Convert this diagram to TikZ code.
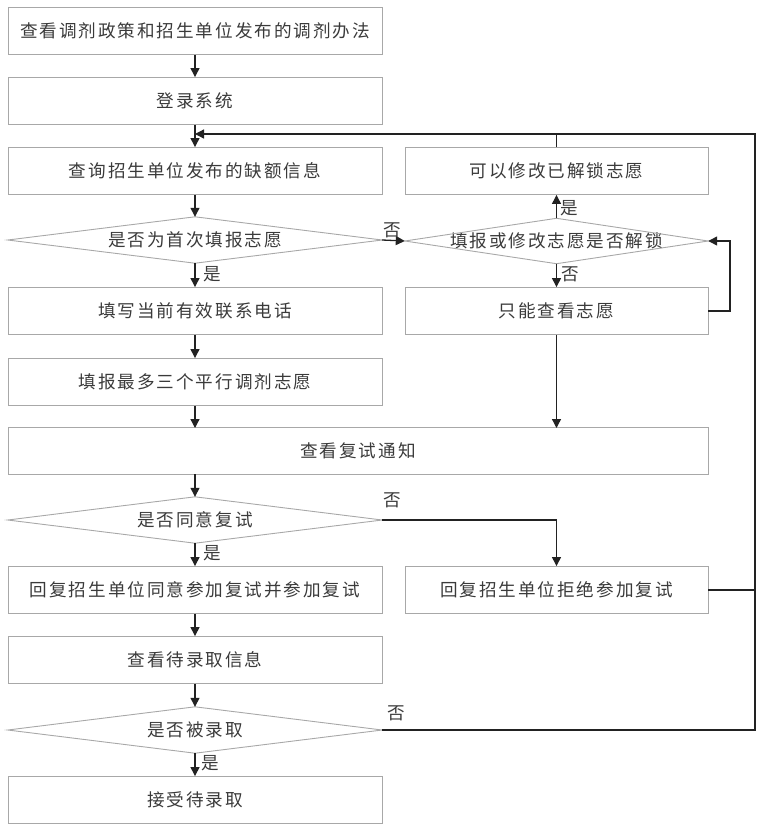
\documentclass[tikz,border=0pt]{standalone}
\usepackage{fontspec}
\setmainfont{Noto Sans CJK SC}
\newfontfamily\cjk[LetterSpace=11]{Noto Sans CJK SC}
\usetikzlibrary{arrows.meta}
\definecolor{boxgray}{HTML}{A8A8A8}
\definecolor{txtgray}{HTML}{3A3A3A}
\definecolor{linedark}{HTML}{222222}
\tikzset{
  stepbox/.style={draw=boxgray, line width=0.9pt, rectangle, inner sep=0pt,
    font=\cjk\fontsize{17.6}{19}\selectfont, text=txtgray},
  decbox/.style={draw=none, rectangle, inner sep=0pt,
    font=\cjk\fontsize{17.6}{19}\selectfont, text=txtgray},
  decline/.style={draw=boxgray, line width=0.9pt},
  conn/.style={draw=linedark, line width=1.3pt},
  arr/.style={conn, -{Triangle[length=9pt,width=9pt]}},
  lbl/.style={font=\cjk\fontsize{17.6}{19}\selectfont, text=txtgray, inner sep=0pt}
}
\begin{document}
\begin{tikzpicture}[x=1pt,y=-1pt]
\useasboundingbox (0,0) rectangle (764,838);
% left column
\node[stepbox, minimum width=374pt, minimum height=47pt] (b1) at (195,31) {查看调剂政策和招生单位发布的调剂办法};
\node[stepbox, minimum width=374pt, minimum height=47pt] (b2) at (195,101) {登录系统};
\node[stepbox, minimum width=374pt, minimum height=47pt] (b3) at (195,171) {查询招生单位发布的缺额信息};
\node[decbox, minimum width=374pt, minimum height=46pt] (d1) at (195,240) {是否为首次填报志愿};
\draw[decline] (d1.north) -- (d1.east) -- (d1.south) -- (d1.west) -- cycle;
\node[stepbox, minimum width=374pt, minimum height=47pt] (b4) at (195,311) {填写当前有效联系电话};
\node[stepbox, minimum width=374pt, minimum height=47pt] (b5) at (195,382) {填报最多三个平行调剂志愿};
\node[stepbox, minimum width=700pt, minimum height=47pt] (b6) at (358,451) {查看复试通知};
\node[decbox, minimum width=374pt, minimum height=46pt] (d2) at (195,520) {是否同意复试};
\draw[decline] (d2.north) -- (d2.east) -- (d2.south) -- (d2.west) -- cycle;
\node[stepbox, minimum width=374pt, minimum height=47pt] (b7) at (195,590) {回复招生单位同意参加复试并参加复试};
\node[stepbox, minimum width=374pt, minimum height=47pt] (b9) at (195,660) {查看待录取信息};
\node[decbox, minimum width=374pt, minimum height=46pt] (d3) at (195,730) {是否被录取};
\draw[decline] (d3.north) -- (d3.east) -- (d3.south) -- (d3.west) -- cycle;
\node[stepbox, minimum width=374pt, minimum height=47pt] (b10) at (195,800) {接受待录取};
% right column
\node[stepbox, minimum width=303pt, minimum height=47pt] (r1) at (556.5,171) {可以修改已解锁志愿};
\node[decbox, minimum width=303pt, minimum height=45pt] (dr) at (556.5,241) {填报或修改志愿是否解锁};
\draw[decline] (dr.north) -- (dr.east) -- (dr.south) -- (dr.west) -- cycle;
\node[stepbox, minimum width=303pt, minimum height=47pt] (r2) at (556.5,311) {只能查看志愿};
\node[stepbox, minimum width=303pt, minimum height=47pt] (r8) at (556.5,590) {回复招生单位拒绝参加复试};
% junction coordinates
\coordinate (j) at (195,134);
\coordinate (jr) at (556.5,134);
\coordinate (c6) at (195,428);
\coordinate (c6r) at (556.5,428);
\coordinate (c6b) at (195,474);
\coordinate (rt) at (755,134);
\coordinate (rb) at (755,730);
\coordinate (r8e) at (755,590);
\coordinate (lr1) at (730,311);
\coordinate (lr2) at (730,241);
\coordinate (d2c) at (556.5,520);
% connectors
\draw[arr] (b1) -- (b2);
\draw[arr] (b2) -- (b3);
\draw[arr] (b3) -- (d1);
\draw[arr] (d1) -- (b4) node[lbl, pos=0.45, right=8pt] {是};
\draw[arr] (d1.east) -- (dr.west) node[lbl, pos=0.45, above=2pt] {否};
\draw[arr] (dr) -- (r1) node[lbl, pos=0.45, right=3pt] {是};
\draw[arr] (dr) -- (r2) node[lbl, pos=0.45, right=4pt] {否};
\draw[conn] (r1) -- (jr);
\draw[arr] (r2.east) -- (lr1) -- (lr2) -- (dr.east);
\draw[arr] (r2) -- (c6r);
\draw[arr] (b4) -- (b5);
\draw[arr] (b5) -- (c6);
\draw[arr] (c6b) -- (d2.north);
\draw[arr] (d2.east) -- (d2c) -- (r8);
\node[lbl] (n2) at (392,500) {否};
\draw[arr] (d2) -- (b7) node[lbl, pos=0.45, right=8pt] {是};
\draw[arr] (b7) -- (b9);
\draw[arr] (b9) -- (d3);
\draw[arr] (d3) -- (b10) node[lbl, pos=0.45, right=6pt] {是};
\draw[conn] (r8.east) -- (r8e);
\draw[arr] (d3.east) -- (rb) -- (rt) -- (j);
\node[lbl] (n3) at (396,713) {否};
\end{tikzpicture}
\end{document}
